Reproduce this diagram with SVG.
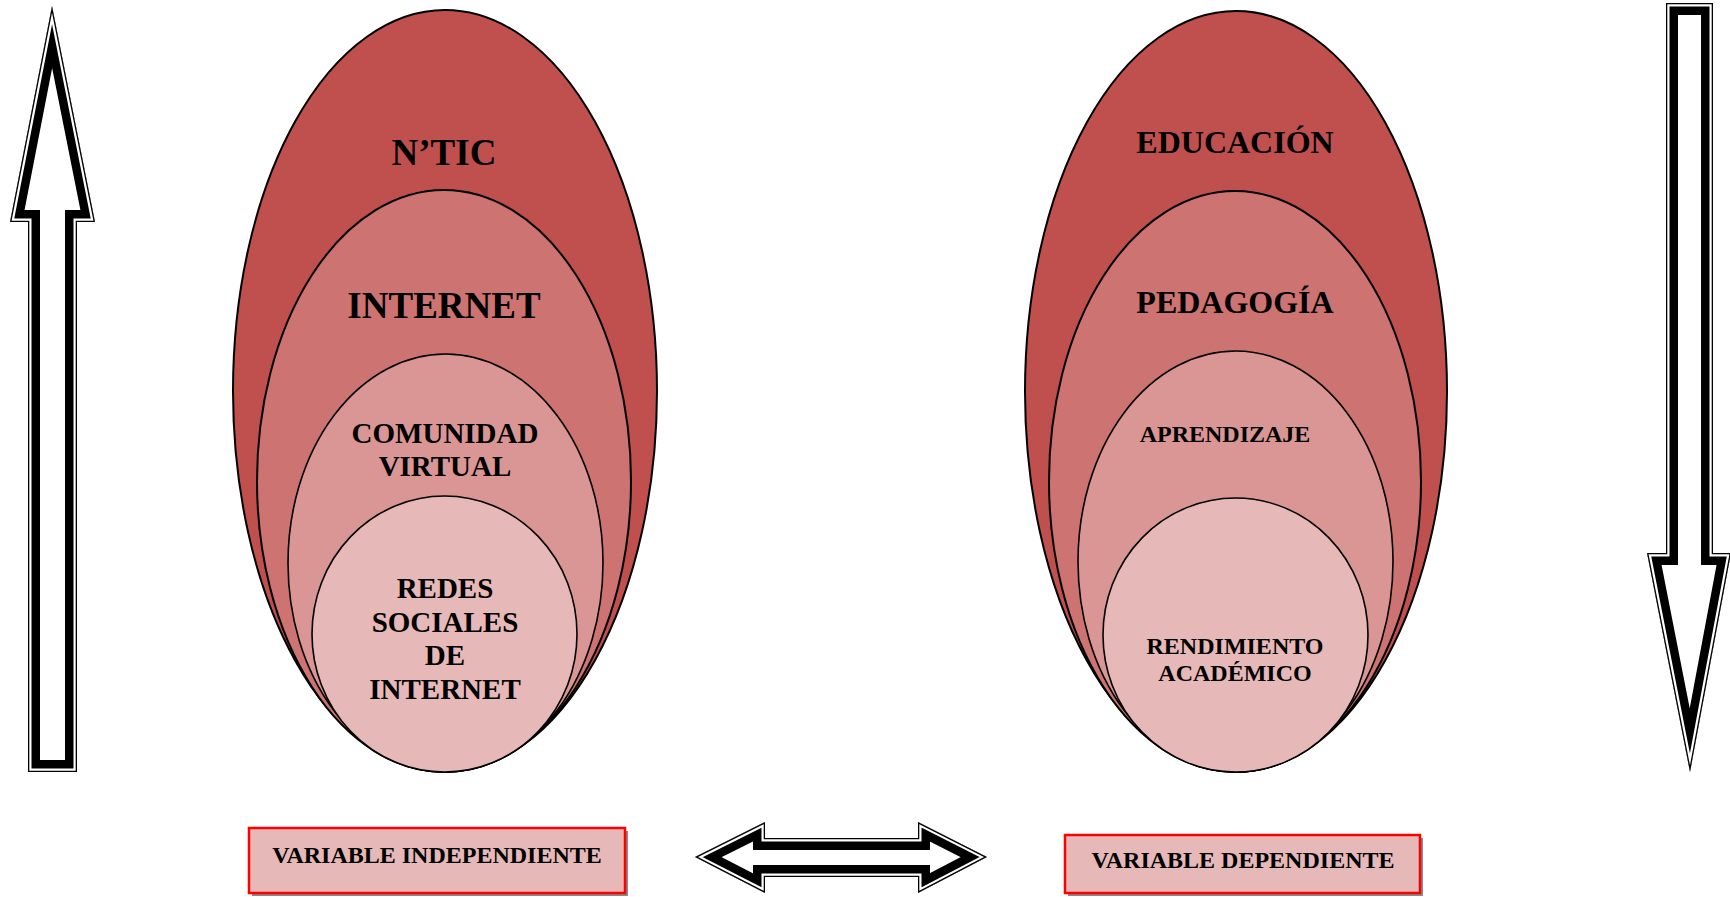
<svg xmlns="http://www.w3.org/2000/svg" xmlns:xlink="http://www.w3.org/1999/xlink" width="1730" height="897" viewBox="0 0 1730 897">
<style>
.lbl{font-family:"Liberation Serif","Times New Roman",serif;font-weight:bold;fill:#000;text-anchor:middle}
.e1{fill:#C0504D;stroke:#000;stroke-width:2}
.e2{fill:#CD7371;stroke:#000;stroke-width:2}
.e3{fill:#D99694;stroke:#000;stroke-width:1.6}
.e4{fill:#E6B8B7;stroke:#000;stroke-width:1.6}
.box{fill:#E6B8B7;stroke:#FF0000;stroke-width:2.5}
.shadow{fill:#8a8a8a}
.arr{fill:#fff}
.band{fill:none;stroke:#000;stroke-width:24;stroke-linejoin:miter;stroke-miterlimit:20}
.gap{fill:none;stroke:#fff;stroke-width:7;stroke-linejoin:miter;stroke-miterlimit:20}
.thin{fill:none;stroke:#000;stroke-width:2.6;stroke-linejoin:miter;stroke-miterlimit:20}
</style>
<defs>
<polygon id="pUp" points="52,6 95,222 77,222 77,772 28,772 28,222 10,222"/>
<polygon id="pDown" points="1666,3 1713,3 1713,553 1731,553 1690,772 1647,553 1666,553"/>
<polygon id="pLR" points="695,857 765,822 765,838 918,838 918,822 987,857 918,893 918,877 765,877 765,893"/>
<clipPath id="cUp"><use xlink:href="#pUp"/></clipPath>
<clipPath id="cDown"><use xlink:href="#pDown"/></clipPath>
<clipPath id="cLR"><use xlink:href="#pLR"/></clipPath>
</defs>

<g id="connectors">
<g id="arrow-up">
<use xlink:href="#pUp" class="arr"/>
<g clip-path="url(#cUp)">
<use xlink:href="#pUp" class="band"/>
<use xlink:href="#pUp" class="gap"/>
<use xlink:href="#pUp" class="thin"/>
</g>
</g>
<g id="arrow-down">
<use xlink:href="#pDown" class="arr"/>
<g clip-path="url(#cDown)">
<use xlink:href="#pDown" class="band"/>
<use xlink:href="#pDown" class="gap"/>
<use xlink:href="#pDown" class="thin"/>
</g>
</g>
<g id="arrow-both">
<use xlink:href="#pLR" class="arr"/>
<g clip-path="url(#cLR)">
<use xlink:href="#pLR" class="band"/>
<use xlink:href="#pLR" class="gap"/>
<use xlink:href="#pLR" class="thin"/>
</g>
</g>
</g>

<g id="ntic">
<ellipse class="e1" cx="445" cy="391" rx="212" ry="381"/>
<text class="lbl" x="444" y="165" font-size="37">N’TIC</text>
</g>
<g id="internet">
<ellipse class="e2" cx="444" cy="481" rx="187" ry="291"/>
<text class="lbl" x="444" y="318" font-size="37">INTERNET</text>
</g>
<g id="comunidad">
<ellipse class="e3" cx="445.5" cy="563" rx="157.5" ry="209"/>
<text class="lbl" x="445" y="443" font-size="29">COMUNIDAD</text>
<text class="lbl" x="445" y="476" font-size="29">VIRTUAL</text>
</g>
<g id="redes">
<ellipse class="e4" cx="444.5" cy="634" rx="132.5" ry="138"/>
<text class="lbl" x="445" y="598" font-size="29">REDES</text>
<text class="lbl" x="445" y="632" font-size="29">SOCIALES</text>
<text class="lbl" x="445" y="665" font-size="29">DE</text>
<text class="lbl" x="445" y="699" font-size="29">INTERNET</text>
</g>

<g id="educacion">
<ellipse class="e1" cx="1236" cy="391.5" rx="211" ry="380.5"/>
<text class="lbl" x="1235" y="153" font-size="32">EDUCACIÓN</text>
</g>
<g id="pedagogia">
<ellipse class="e2" cx="1235" cy="481.5" rx="186" ry="290.5"/>
<text class="lbl" x="1235" y="313" font-size="32">PEDAGOGÍA</text>
</g>
<g id="aprendizaje">
<ellipse class="e3" cx="1235.5" cy="561.5" rx="157.5" ry="210.5"/>
<text class="lbl" x="1225" y="442" font-size="24">APRENDIZAJE</text>
</g>
<g id="rendimiento">
<ellipse class="e4" cx="1235.5" cy="635" rx="132.5" ry="137"/>
<text class="lbl" x="1235" y="654" font-size="24">RENDIMIENTO</text>
<text class="lbl" x="1235" y="681" font-size="24">ACADÉMICO</text>
</g>

<g id="var-independiente">
<rect class="shadow" x="252" y="831" width="376" height="65"/>
<rect class="box" x="249" y="828" width="376" height="65"/>
<text class="lbl" x="437" y="863" font-size="24">VARIABLE INDEPENDIENTE</text>
</g>
<g id="var-dependiente">
<rect class="shadow" x="1068" y="838" width="355" height="58"/>
<rect class="box" x="1065" y="835" width="355" height="58"/>
<text class="lbl" x="1243" y="868" font-size="24">VARIABLE DEPENDIENTE</text>
</g>
</svg>
